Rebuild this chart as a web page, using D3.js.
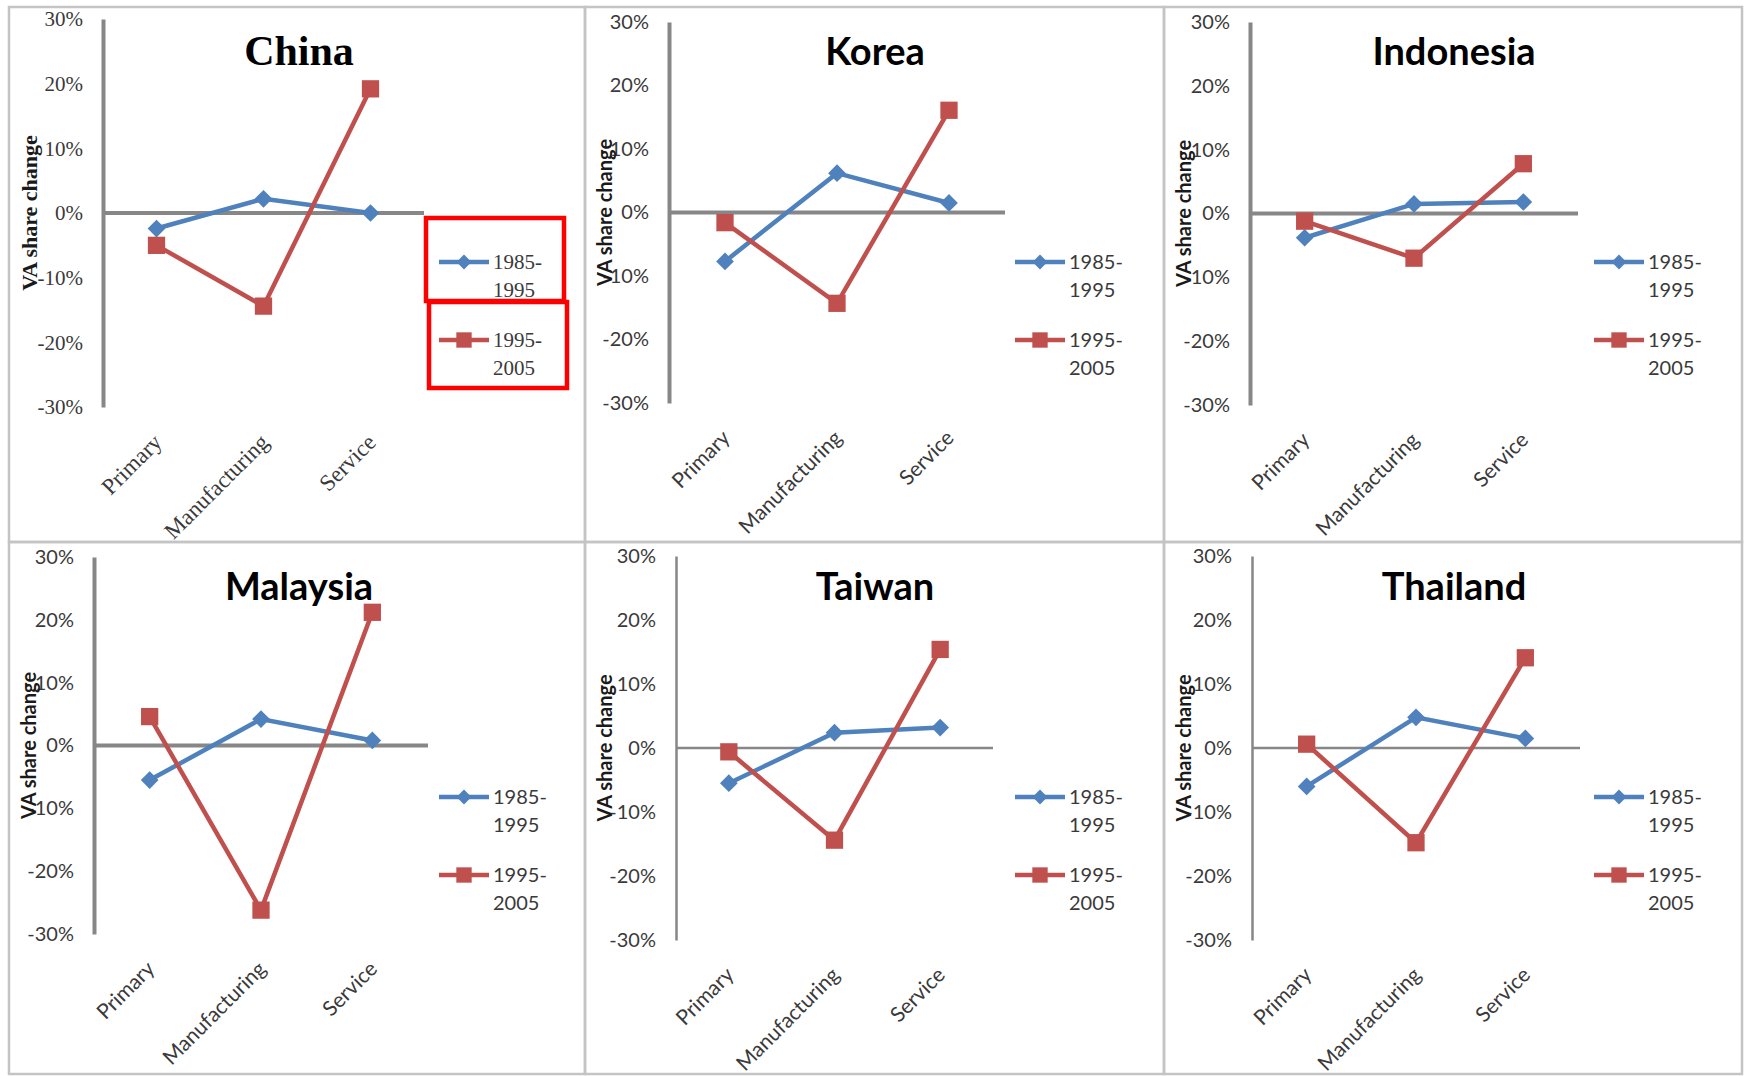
<!DOCTYPE html>
<meta charset="utf-8">
<script src="https://d3js.org/d3.v7.min.js"></script>
<style>
  body { margin: 0; background: #fff; }
</style>
<svg id="chart" width="1744" height="1076"></svg>
<script>
// countries, one panel each
const countries = ["China", "Korea", "Indonesia", "Malaysia", "Taiwan", "Thailand"];
const sectors = ["Primary", "Manufacturing", "Service"];
const periods = ["1985-1995", "1995-2005"];
const yTicks = [-30, -20, -10, 0, 10, 20, 30];

// VA share change (%) per country, sectors in order
const change8595 = [
  [-2.4, 2.2, 0.0],
  [-7.7, 6.2, 1.5],
  [-3.8, 1.5, 1.8],
  [-5.5, 4.2, 0.8],
  [-5.5, 2.4, 3.2],
  [-6.0, 4.8, 1.5]
];
const change9505 = [
  [-5.0, -14.4, 19.2],
  [-1.6, -14.3, 16.1],
  [-1.2, -7.0, 7.8],
  [4.6, -26.2, 21.2],
  [-0.6, -14.4, 15.4],
  [0.6, -14.8, 14.1]
];

// layout: panel origins and plot frame inside each panel [axisX, top, bottom, right, axisWidth]
const colX = [9, 585, 1164], rowY = [7, 542];
const panelW = [576, 579, 578], panelH = [535, 532];
const frames = [
  [94, 12, 400, 415, 4],
  [84, 15, 396, 420, 4],
  [86, 15, 398, 414, 4],
  [85, 15, 392, 419, 4],
  [91, 14, 398, 408, 2.5],
  [88, 14, 398, 416, 2.5]
];
const serifFont = "'Liberation Serif', 'Times New Roman', serif";
const sansFont = "Lato, 'Open Sans', sans-serif";
const blue = "#4f81bd", red = "#c0504d", axisGray = "#878787";

const svg = d3.select("#chart");

const diamond = d3.symbol().type(d3.symbolDiamond2).size(200);
const square = d3.symbol().type(d3.symbolSquare2).size(380);
const legDiamond = d3.symbol().type(d3.symbolDiamond2).size(140);
const legSquare = d3.symbol().type(d3.symbolSquare2).size(300);

countries.forEach(function(name, i) {
  const col = i % 3, row = Math.floor(i / 3);
  const f = frames[i];
  const serif = name === "China";
  const font = serif ? serifFont : sansFont;
  const g = svg.append("g").attr("transform", `translate(${colX[col]},${rowY[row]})`);

  // panel border
  g.append("rect")
    .attr("width", panelW[col]).attr("height", panelH[row])
    .attr("fill", "none").attr("stroke", "#c4c4c4").attr("stroke-width", 2.5);

  const x = d3.scaleBand().domain(sectors).range([f[0], f[3]]);
  const y = d3.scaleLinear().domain([-30, 30]).range([f[2], f[1]]);
  const cx = d => x(d) + x.bandwidth() / 2;

  // y axis
  const ya = g.append("g").attr("transform", `translate(${f[0]},0)`)
    .call(d3.axisLeft(y).tickValues(yTicks).tickSize(0).tickSizeOuter(0)
      .tickPadding(20).tickFormat(d => d + "%"));
  ya.select(".domain").attr("stroke", axisGray).attr("stroke-width", f[4]);
  ya.selectAll("text").attr("font-family", font).attr("font-size", serif ? 21 : 20)
    .attr("fill", "#3a3a3a");

  // zero line
  g.append("line")
    .attr("x1", f[0]).attr("x2", f[3]).attr("y1", y(0)).attr("y2", y(0))
    .attr("stroke", axisGray).attr("stroke-width", f[4]);

  // x axis labels
  const xa = g.append("g").attr("transform", `translate(0,${f[2]})`)
    .call(d3.axisBottom(x).tickSize(0));
  xa.select(".domain").remove();
  xa.selectAll("text")
    .attr("font-family", font).attr("font-size", serif ? 23 : 21).attr("fill", "#3a3a3a")
    .attr("text-anchor", "end").attr("x", 0).attr("y", 0).attr("dy", "0.35em")
    .attr("transform", "translate(1,31) rotate(-45)");

  // y title
  g.append("text")
    .attr("transform", `translate(20,${(f[1] + f[2]) / 2}) rotate(-90)`)
    .attr("text-anchor", "middle").attr("dy", "0.35em")
    .attr("font-family", font).attr("font-weight", "bold")
    .attr("font-size", serif ? 22 : 20).attr("fill", "#1a1a1a")
    .text("VA share change");

  // title
  g.append("text")
    .attr("x", 290).attr("y", 58).attr("text-anchor", "middle")
    .attr("font-family", font).attr("font-weight", "bold")
    .attr("font-size", serif ? 42 : 38).attr("fill", "#000")
    .text(name);

  const series = [
    { values: change8595[i], color: blue, sym: diamond, leg: legDiamond },
    { values: change9505[i], color: red, sym: square, leg: legSquare }
  ];

  const line = d3.line().x(d => cx(d.s)).y(d => y(d.v));
  series.forEach(function(s) {
    const pts = sectors.map((c, k) => ({ s: c, v: s.values[k] }));
    g.append("path").datum(pts)
      .attr("d", line).attr("fill", "none")
      .attr("stroke", s.color).attr("stroke-width", 4.5);
    g.selectAll(null).data(pts).join("path")
      .attr("transform", d => `translate(${cx(d.s)},${y(d.v)})`)
      .attr("d", s.sym()).attr("fill", s.color);
  });

  // legend
  periods.forEach(function(p, k) {
    const ly = 255 + k * 78;
    const s = series[k];
    const lg = g.append("g").attr("transform", `translate(430,${ly})`);
    lg.append("line").attr("x1", 0).attr("x2", 50)
      .attr("stroke", s.color).attr("stroke-width", 4.5);
    lg.append("path").attr("transform", "translate(25,0)")
      .attr("d", s.leg()).attr("fill", s.color);
    const parts = p.split("-");
    const t = lg.append("text").attr("dy", "0.35em")
      .attr("font-family", font).attr("font-size", serif ? 21 : 20).attr("fill", "#3a3a3a");
    t.append("tspan").attr("x", 54).text(parts[0] + "-");
    t.append("tspan").attr("x", 54).attr("dy", 28).text(parts[1]);
  });

  // highlight boxes around the China legend
  if (serif) {
    g.append("rect").attr("x", 417).attr("y", 211).attr("width", 138).attr("height", 83)
      .attr("fill", "none").attr("stroke", "#ff0000").attr("stroke-width", 4.5);
    g.append("rect").attr("x", 420).attr("y", 295).attr("width", 138).attr("height", 86)
      .attr("fill", "none").attr("stroke", "#ff0000").attr("stroke-width", 4.5);
  }
});
</script>
